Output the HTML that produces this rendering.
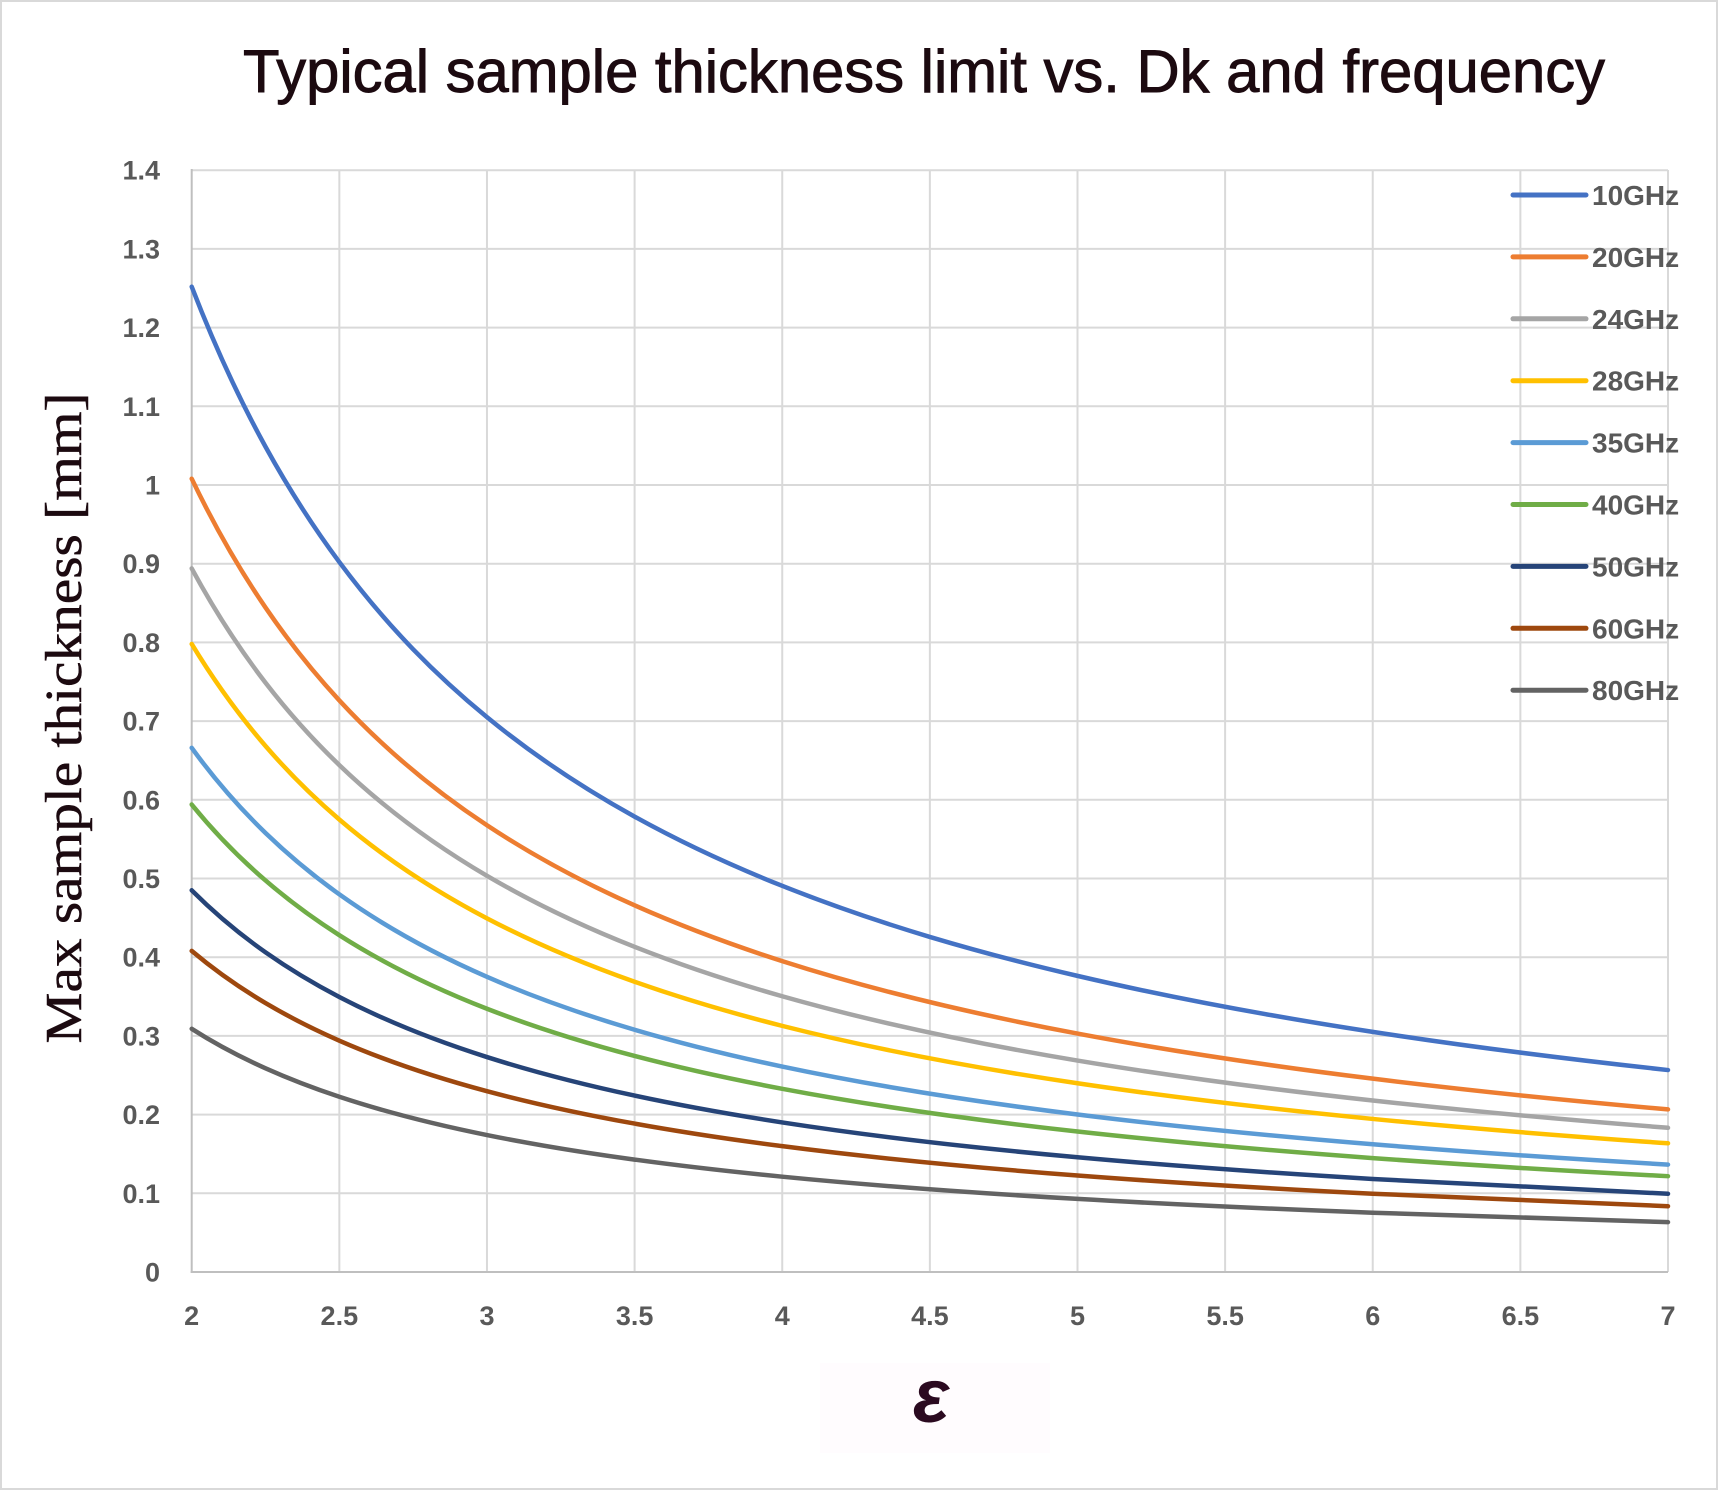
<!DOCTYPE html>
<html>
<head>
<meta charset="utf-8">
<style>
  html,body{margin:0;padding:0;background:#fff;}
  svg{display:block;}
  .yt{font-family:"Liberation Sans",sans-serif;font-weight:bold;font-size:27px;fill:#595959;text-anchor:end;}
  .xt{font-family:"Liberation Sans",sans-serif;font-weight:bold;font-size:27px;fill:#595959;text-anchor:middle;}
  .lg{font-family:"Liberation Sans",sans-serif;font-weight:bold;font-size:28px;fill:#595959;}
  .s{fill:none;stroke-width:4.5;stroke-linecap:round;stroke-linejoin:round;vector-effect:non-scaling-stroke;}
</style>
</head>
<body>
<svg width="1718" height="1490" viewBox="0 0 1718 1490" xmlns="http://www.w3.org/2000/svg">
  <rect x="1" y="1" width="1716" height="1488" fill="#ffffff" stroke="#d9d9d9" stroke-width="2"/>

  <rect x="820" y="1363" width="230" height="90" fill="#fffcfe"/>

  <!-- Title -->
  <text x="243" y="92" font-family="'Liberation Sans', sans-serif" font-size="60" fill="#1c0a10" stroke="#1c0a10" stroke-width="0.9" textLength="1362" lengthAdjust="spacingAndGlyphs">Typical sample thickness limit vs. Dk and frequency</text>

  <g stroke="#d9d9d9" stroke-width="2">
    <line x1="191.7" y1="1193.3" x2="1668" y2="1193.3"/>
    <line x1="191.7" y1="1114.6" x2="1668" y2="1114.6"/>
    <line x1="191.7" y1="1035.9" x2="1668" y2="1035.9"/>
    <line x1="191.7" y1="957.2" x2="1668" y2="957.2"/>
    <line x1="191.7" y1="878.5" x2="1668" y2="878.5"/>
    <line x1="191.7" y1="799.8" x2="1668" y2="799.8"/>
    <line x1="191.7" y1="721.1" x2="1668" y2="721.1"/>
    <line x1="191.7" y1="642.4" x2="1668" y2="642.4"/>
    <line x1="191.7" y1="563.7" x2="1668" y2="563.7"/>
    <line x1="191.7" y1="485" x2="1668" y2="485"/>
    <line x1="191.7" y1="406.3" x2="1668" y2="406.3"/>
    <line x1="191.7" y1="327.6" x2="1668" y2="327.6"/>
    <line x1="191.7" y1="248.9" x2="1668" y2="248.9"/>
    <line x1="191.7" y1="170.2" x2="1668" y2="170.2"/>
    <line x1="339.33" y1="170" x2="339.33" y2="1272"/>
    <line x1="486.96" y1="170" x2="486.96" y2="1272"/>
    <line x1="634.59" y1="170" x2="634.59" y2="1272"/>
    <line x1="782.22" y1="170" x2="782.22" y2="1272"/>
    <line x1="929.85" y1="170" x2="929.85" y2="1272"/>
    <line x1="1077.48" y1="170" x2="1077.48" y2="1272"/>
    <line x1="1225.11" y1="170" x2="1225.11" y2="1272"/>
    <line x1="1372.74" y1="170" x2="1372.74" y2="1272"/>
    <line x1="1520.37" y1="170" x2="1520.37" y2="1272"/>
    <line x1="1668" y1="170" x2="1668" y2="1272"/>
  </g>
  <g stroke="#bfbfbf" stroke-width="2">
    <line x1="191.7" y1="169" x2="191.7" y2="1273"/>
    <line x1="190.7" y1="1272" x2="1668" y2="1272"/>
  </g>

  <!-- Y tick labels -->
  <text class="yt" x="160" y="1281.5">0</text>
  <text class="yt" x="160" y="1202.8">0.1</text>
  <text class="yt" x="160" y="1124.1">0.2</text>
  <text class="yt" x="160" y="1045.4">0.3</text>
  <text class="yt" x="160" y="966.7">0.4</text>
  <text class="yt" x="160" y="888">0.5</text>
  <text class="yt" x="160" y="809.3">0.6</text>
  <text class="yt" x="160" y="730.6">0.7</text>
  <text class="yt" x="160" y="651.9">0.8</text>
  <text class="yt" x="160" y="573.2">0.9</text>
  <text class="yt" x="160" y="494.5">1</text>
  <text class="yt" x="160" y="415.8">1.1</text>
  <text class="yt" x="160" y="337.1">1.2</text>
  <text class="yt" x="160" y="258.4">1.3</text>
  <text class="yt" x="160" y="179.7">1.4</text>

  <!-- X tick labels -->
  <text class="xt" x="191.7" y="1325">2</text>
  <text class="xt" x="339.33" y="1325">2.5</text>
  <text class="xt" x="486.96" y="1325">3</text>
  <text class="xt" x="634.59" y="1325">3.5</text>
  <text class="xt" x="782.22" y="1325">4</text>
  <text class="xt" x="929.85" y="1325">4.5</text>
  <text class="xt" x="1077.48" y="1325">5</text>
  <text class="xt" x="1225.11" y="1325">5.5</text>
  <text class="xt" x="1372.74" y="1325">6</text>
  <text class="xt" x="1520.37" y="1325">6.5</text>
  <text class="xt" x="1668" y="1325">7</text>

  <!-- Y axis title -->
  <text transform="translate(81,718) rotate(-90)" text-anchor="middle" font-family="'Liberation Serif', serif" font-size="52" fill="#1c0a10" stroke="#1c0a10" stroke-width="0.5" textLength="651" lengthAdjust="spacingAndGlyphs">Max sample thickness [mm]</text>

  <!-- X axis title -->
  <text x="931" y="1422" text-anchor="middle" font-family="'Liberation Sans', sans-serif" font-size="76" font-weight="bold" font-style="italic" fill="#2b0a20">ε</text>

  <!-- Series -->
  <g>
    <path class="s" stroke="#4472C4" transform="translate(0,1272) scale(1,1.252)" d="M191.7,-787 C216.305,-736.12 240.91,-694.84 265.515,-659.15 C290.12,-623.46 314.725,-593.45 339.33,-567.04 C388.54,-514.21 437.75,-475.45 486.96,-443.18 C536.17,-410.91 585.38,-385.47 634.59,-363.73 C683.8,-341.99 733.01,-324.06 782.22,-308.43 C880.64,-277.17 979.06,-254.9 1077.48,-236.52 C1175.9,-218.14 1274.32,-203.89 1372.74,-191.8 C1471.16,-179.71 1569.58,-169.85 1668,-161.3"/>
    <path class="s" stroke="#ED7D31" transform="translate(0,1272) scale(1,1.008)" d="M191.7,-787 C216.305,-736.12 240.91,-694.84 265.515,-659.15 C290.12,-623.46 314.725,-593.45 339.33,-567.04 C388.54,-514.21 437.75,-475.45 486.96,-443.18 C536.17,-410.91 585.38,-385.47 634.59,-363.73 C683.8,-341.99 733.01,-324.06 782.22,-308.43 C880.64,-277.17 979.06,-254.9 1077.48,-236.52 C1175.9,-218.14 1274.32,-203.89 1372.74,-191.8 C1471.16,-179.71 1569.58,-169.85 1668,-161.3"/>
    <path class="s" stroke="#A5A5A5" transform="translate(0,1272) scale(1,0.894)" d="M191.7,-787 C216.305,-736.12 240.91,-694.84 265.515,-659.15 C290.12,-623.46 314.725,-593.45 339.33,-567.04 C388.54,-514.21 437.75,-475.45 486.96,-443.18 C536.17,-410.91 585.38,-385.47 634.59,-363.73 C683.8,-341.99 733.01,-324.06 782.22,-308.43 C880.64,-277.17 979.06,-254.9 1077.48,-236.52 C1175.9,-218.14 1274.32,-203.89 1372.74,-191.8 C1471.16,-179.71 1569.58,-169.85 1668,-161.3"/>
    <path class="s" stroke="#FFC000" transform="translate(0,1272) scale(1,0.798)" d="M191.7,-787 C216.305,-736.12 240.91,-694.84 265.515,-659.15 C290.12,-623.46 314.725,-593.45 339.33,-567.04 C388.54,-514.21 437.75,-475.45 486.96,-443.18 C536.17,-410.91 585.38,-385.47 634.59,-363.73 C683.8,-341.99 733.01,-324.06 782.22,-308.43 C880.64,-277.17 979.06,-254.9 1077.48,-236.52 C1175.9,-218.14 1274.32,-203.89 1372.74,-191.8 C1471.16,-179.71 1569.58,-169.85 1668,-161.3"/>
    <path class="s" stroke="#5B9BD5" transform="translate(0,1272) scale(1,0.666)" d="M191.7,-787 C216.305,-736.12 240.91,-694.84 265.515,-659.15 C290.12,-623.46 314.725,-593.45 339.33,-567.04 C388.54,-514.21 437.75,-475.45 486.96,-443.18 C536.17,-410.91 585.38,-385.47 634.59,-363.73 C683.8,-341.99 733.01,-324.06 782.22,-308.43 C880.64,-277.17 979.06,-254.9 1077.48,-236.52 C1175.9,-218.14 1274.32,-203.89 1372.74,-191.8 C1471.16,-179.71 1569.58,-169.85 1668,-161.3"/>
    <path class="s" stroke="#70AD47" transform="translate(0,1272) scale(1,0.594)" d="M191.7,-787 C216.305,-736.12 240.91,-694.84 265.515,-659.15 C290.12,-623.46 314.725,-593.45 339.33,-567.04 C388.54,-514.21 437.75,-475.45 486.96,-443.18 C536.17,-410.91 585.38,-385.47 634.59,-363.73 C683.8,-341.99 733.01,-324.06 782.22,-308.43 C880.64,-277.17 979.06,-254.9 1077.48,-236.52 C1175.9,-218.14 1274.32,-203.89 1372.74,-191.8 C1471.16,-179.71 1569.58,-169.85 1668,-161.3"/>
    <path class="s" stroke="#264478" transform="translate(0,1272) scale(1,0.485)" d="M191.7,-787 C216.305,-736.12 240.91,-694.84 265.515,-659.15 C290.12,-623.46 314.725,-593.45 339.33,-567.04 C388.54,-514.21 437.75,-475.45 486.96,-443.18 C536.17,-410.91 585.38,-385.47 634.59,-363.73 C683.8,-341.99 733.01,-324.06 782.22,-308.43 C880.64,-277.17 979.06,-254.9 1077.48,-236.52 C1175.9,-218.14 1274.32,-203.89 1372.74,-191.8 C1471.16,-179.71 1569.58,-169.85 1668,-161.3"/>
    <path class="s" stroke="#9E480E" transform="translate(0,1272) scale(1,0.408)" d="M191.7,-787 C216.305,-736.12 240.91,-694.84 265.515,-659.15 C290.12,-623.46 314.725,-593.45 339.33,-567.04 C388.54,-514.21 437.75,-475.45 486.96,-443.18 C536.17,-410.91 585.38,-385.47 634.59,-363.73 C683.8,-341.99 733.01,-324.06 782.22,-308.43 C880.64,-277.17 979.06,-254.9 1077.48,-236.52 C1175.9,-218.14 1274.32,-203.89 1372.74,-191.8 C1471.16,-179.71 1569.58,-169.85 1668,-161.3"/>
    <path class="s" stroke="#636363" transform="translate(0,1272) scale(1,0.309)" d="M191.7,-787 C216.305,-736.12 240.91,-694.84 265.515,-659.15 C290.12,-623.46 314.725,-593.45 339.33,-567.04 C388.54,-514.21 437.75,-475.45 486.96,-443.18 C536.17,-410.91 585.38,-385.47 634.59,-363.73 C683.8,-341.99 733.01,-324.06 782.22,-308.43 C880.64,-277.17 979.06,-254.9 1077.48,-236.52 C1175.9,-218.14 1274.32,-203.89 1372.74,-191.8 C1471.16,-179.71 1569.58,-169.85 1668,-161.3"/>
  </g>

  <!-- Legend -->
  <g stroke-width="5" stroke-linecap="round">
    <line x1="1513" y1="195" x2="1586" y2="195" stroke="#4472C4"/>
    <line x1="1513" y1="256.9" x2="1586" y2="256.9" stroke="#ED7D31"/>
    <line x1="1513" y1="318.8" x2="1586" y2="318.8" stroke="#A5A5A5"/>
    <line x1="1513" y1="380.7" x2="1586" y2="380.7" stroke="#FFC000"/>
    <line x1="1513" y1="442.6" x2="1586" y2="442.6" stroke="#5B9BD5"/>
    <line x1="1513" y1="504.5" x2="1586" y2="504.5" stroke="#70AD47"/>
    <line x1="1513" y1="566.4" x2="1586" y2="566.4" stroke="#264478"/>
    <line x1="1513" y1="628.3" x2="1586" y2="628.3" stroke="#9E480E"/>
    <line x1="1513" y1="690.2" x2="1586" y2="690.2" stroke="#636363"/>
  </g>
  <text class="lg" x="1592" y="205">10GHz</text>
  <text class="lg" x="1592" y="266.9">20GHz</text>
  <text class="lg" x="1592" y="328.8">24GHz</text>
  <text class="lg" x="1592" y="390.7">28GHz</text>
  <text class="lg" x="1592" y="452.6">35GHz</text>
  <text class="lg" x="1592" y="514.5">40GHz</text>
  <text class="lg" x="1592" y="576.4">50GHz</text>
  <text class="lg" x="1592" y="638.3">60GHz</text>
  <text class="lg" x="1592" y="700.2">80GHz</text>
</svg>
</body>
</html>
